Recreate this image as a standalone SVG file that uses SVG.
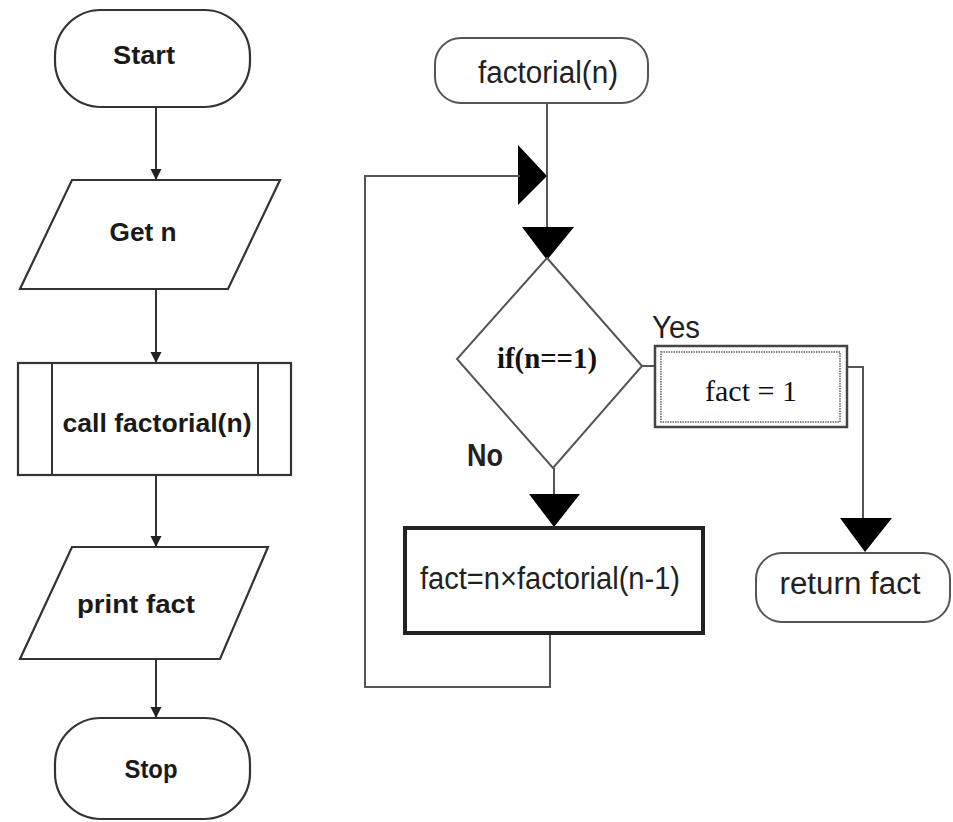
<svg xmlns="http://www.w3.org/2000/svg" width="953" height="822" viewBox="0 0 953 822">
<defs>
<style>
.lbox{fill:#fff;stroke:#333;stroke-width:2.2}
.rbox{fill:#fff;stroke:#555;stroke-width:2}
.lt{font-family:"Liberation Sans","DejaVu Sans",sans-serif;font-weight:bold;font-size:25px;fill:#1a1a1a}
.rt{font-family:"Liberation Sans","DejaVu Sans",sans-serif;font-size:31px;fill:#222}
.st{font-family:"Liberation Serif","DejaVu Serif",serif;font-size:30px;fill:#111}
.lc{fill:none;stroke:#333;stroke-width:2}
.rc{fill:none;stroke:#555;stroke-width:2}
.head{fill:#000;stroke:none}
</style>
<marker id="arr" markerWidth="11" markerHeight="16" refX="11" refY="8" orient="auto" markerUnits="userSpaceOnUse">
<path d="M0,2.5 L11,8 L0,13.5 Z" fill="#222"/>
</marker>
</defs>
<rect width="953" height="822" fill="#fff"/>

<g id="connectors">
<line class="lc" x1="156" y1="107" x2="156" y2="180" marker-end="url(#arr)"/>
<line class="lc" x1="156" y1="289" x2="156" y2="363" marker-end="url(#arr)"/>
<line class="lc" x1="156" y1="475" x2="156" y2="547" marker-end="url(#arr)"/>
<line class="lc" x1="156" y1="659" x2="156" y2="718" marker-end="url(#arr)"/>

<line class="rc" x1="547" y1="103" x2="547" y2="230"/>
<polygon class="head" points="518,145 547,176 518,205"/>
<polygon class="head" points="522,227 574,227 547,260"/>
<polyline class="rc" points="550,633 550,687 365,687 365,176 520,176"/>
<line class="rc" x1="554" y1="468" x2="554" y2="496"/>
<polygon class="head" points="529,494 580,494 554,527"/>
<line class="rc" x1="641" y1="366" x2="655" y2="366"/>
<polyline class="rc" points="847,367 863,367 863,520"/>
<polygon class="head" points="840,518 892,518 865,552"/>
<text class="rt" x="652" y="338" textLength="48" lengthAdjust="spacingAndGlyphs" font-size="28">Yes</text>
<text class="rt" x="467" y="466" textLength="36" lengthAdjust="spacingAndGlyphs" font-size="28" font-weight="bold">No</text>
</g>

<g id="start">
<rect class="lbox" x="55" y="10" width="195" height="97" rx="46" ry="46"/>
<text class="lt" x="144" y="64" text-anchor="middle" textLength="62" lengthAdjust="spacingAndGlyphs">Start</text>
</g>

<g id="get-n">
<polygon class="lbox" points="72,180 280,180 228,289 20,289"/>
<text class="lt" x="143" y="241" text-anchor="middle" textLength="67" lengthAdjust="spacingAndGlyphs">Get n</text>
</g>

<g id="call-factorial">
<rect class="lbox" x="18" y="363" width="273" height="112"/>
<line class="lc" x1="52" y1="363" x2="52" y2="475"/>
<line class="lc" x1="258" y1="363" x2="258" y2="475"/>
<text class="lt" x="157" y="432" text-anchor="middle" textLength="189" lengthAdjust="spacingAndGlyphs">call factorial(n)</text>
</g>

<g id="print-fact">
<polygon class="lbox" points="72,547 268,547 220,659 20,659"/>
<text class="lt" x="136" y="613" text-anchor="middle" textLength="118" lengthAdjust="spacingAndGlyphs">print fact</text>
</g>

<g id="stop">
<rect class="lbox" x="55" y="718" width="195" height="101" rx="46" ry="46"/>
<text class="lt" x="151" y="778" text-anchor="middle" textLength="53" lengthAdjust="spacingAndGlyphs">Stop</text>
</g>

<g id="factorial">
<rect class="rbox" x="435" y="38" width="213" height="65" rx="26" ry="26"/>
<text class="rt" x="548" y="83" text-anchor="middle" textLength="140" lengthAdjust="spacingAndGlyphs">factorial(n)</text>
</g>

<g id="decision">
<polygon class="rbox" points="547,258 642,366 553,468 457,359"/>
<text class="st" x="547" y="368" text-anchor="middle" font-weight="bold" textLength="100" lengthAdjust="spacingAndGlyphs">if(n==1)</text>
</g>

<g id="fact-one">
<rect x="655" y="346" width="192" height="81" fill="#fff" stroke="#444" stroke-width="2.5"/>
<rect x="661" y="352" width="179" height="70" fill="none" stroke="#888" stroke-width="2" stroke-dasharray="1.5 1"/>
<text class="st" x="751" y="401" text-anchor="middle" textLength="92" lengthAdjust="spacingAndGlyphs">fact = 1</text>
</g>

<g id="fact-recursive">
<rect x="405" y="528" width="298" height="105" fill="#fff" stroke="#222" stroke-width="4"/>
<text class="rt" x="550" y="589" text-anchor="middle" textLength="260" lengthAdjust="spacingAndGlyphs">fact=n×factorial(n-1)</text>
</g>

<g id="return-fact">
<rect class="rbox" x="756" y="553" width="194" height="69" rx="26" ry="26"/>
<text class="rt" x="850" y="594" text-anchor="middle" textLength="141" lengthAdjust="spacingAndGlyphs">return fact</text>
</g>
</svg>
